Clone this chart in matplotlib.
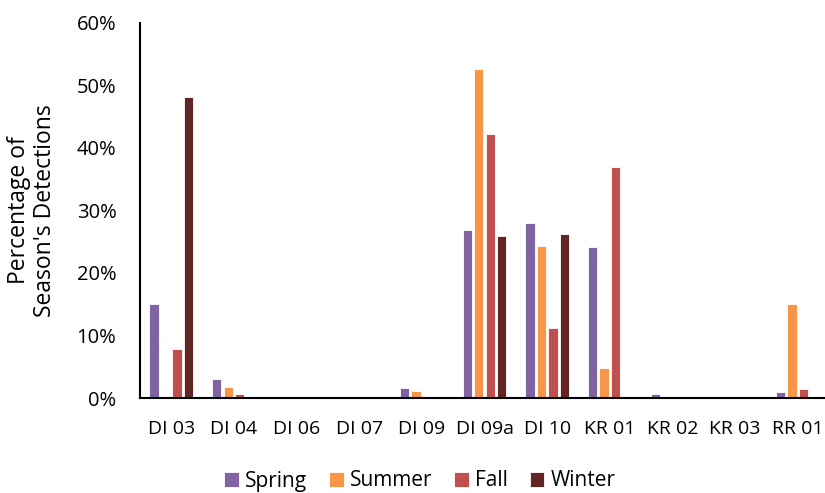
import matplotlib
matplotlib.use("Agg")
import matplotlib.pyplot as plt
import numpy as np

categories = ["DI 03", "DI 04", "DI 06", "DI 07", "DI 09", "DI 09a", "DI 10", "KR 01", "KR 02", "KR 03", "RR 01"]
spring = [15.0, 3.0, 0.0, 0.0, 1.6, 26.9, 28.0, 24.2, 0.6, 0.0, 1.0]
summer = [0.0, 1.7, 0.0, 0.0, 1.1, 52.6, 24.3, 4.8, 0.1, 0.0, 15.0]
fall = [7.8, 0.6, 0.0, 0.0, 0.0, 42.2, 11.2, 37.0, 0.1, 0.0, 1.4]
winter = [48.2, 0.0, 0.0, 0.0, 0.0, 25.9, 26.2, 0.0, 0.0, 0.0, 0.0]
series_names = ["Spring", "Summer", "Fall", "Winter"]
colors = ["#8064A2", "#F79646", "#C0504D", "#632523"]
yticks = [0, 10, 20, 30, 40, 50, 60]

plt.rcParams['font.family'] = ['Open Sans', 'DejaVu Sans']

fig = plt.figure(figsize=(8.25, 4.93), dpi=100)
ax = fig.add_axes([140/825, 1-398/493, (829-140)/825, (398-23)/493])

x = np.arange(len(categories))
step = 0.183
width = 0.15
for i, (vals, name, c) in enumerate(zip([spring, summer, fall, winter], series_names, colors)):
    ax.bar(x + (i - 1.5) * step, vals, width, color=c, label=name,
           edgecolor="#FFFFFF", linewidth=0.6, alpha=1)

ax.set_xlim(-0.5, len(categories) - 0.5)
ax.set_ylim(0, 60)
ax.set_yticks(yticks)
ax.set_yticklabels([f"{t}%" for t in yticks], fontsize=14.5)
ax.set_xticks(x)
ax.set_xticklabels(categories, fontsize=14)
ax.tick_params(axis='both', length=0)
ax.tick_params(axis='y', pad=17)
ax.tick_params(axis='x', pad=16)
for s in ["top", "right"]:
    ax.spines[s].set_visible(False)
ax.spines["left"].set_linewidth(1.5)
ax.spines["bottom"].set_linewidth(1.5)
ax.set_ylabel("Percentage of\nSeason's Detections", fontsize=16.5, labelpad=14, linespacing=1.1)

fig.legend(loc="center", bbox_to_anchor=(420/825, 1-481/493), ncol=4, frameon=False,
           fontsize=15, handlelength=0.7, handleheight=0.7, handletextpad=0.3, columnspacing=1.05)

fig.savefig("out.png", dpi=100)
